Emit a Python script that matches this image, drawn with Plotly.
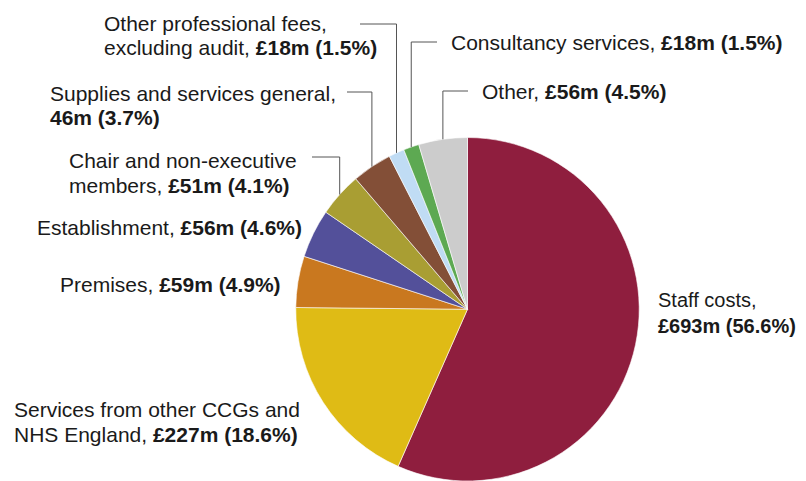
import math
import plotly.graph_objects as go

categories = ["Staff costs", "Services from other CCGs and NHS England", "Premises",
              "Establishment", "Chair and non-executive members", "Supplies and services general",
              "Other professional fees, excluding audit", "Consultancy services", "Other"]
values = [693, 227, 59, 56, 51, 46, 18, 18, 56]
percents = [56.6, 18.6, 4.9, 4.6, 4.1, 3.7, 1.5, 1.5, 4.5]
colors = ["#8F1E3E", "#DFBB15", "#C9781F", "#53509A", "#A99E33", "#834F37",
          "#C0DCF4", "#5DA952", "#CCCCCC"]

OFF = 8  # page body margin
W, H = 806 - OFF, 481 - OFF
DX = [0.3606, 0.7910]
DY = [0.0, 0.7262]
FONT = "Liberation Sans, Arial, sans-serif"
FS = 21
TXT = "#1a1a1a"
LINE = "#555555"

fig = go.Figure(go.Pie(
    labels=categories, values=values, sort=False, direction="clockwise", rotation=0,
    marker=dict(colors=colors, line=dict(color="white", width=0.6)),
    textinfo="none", hoverinfo="label+value", showlegend=False,
    domain=dict(x=DX, y=DY),
))

# pie geometry in window pixels (derived from domain)
cx = (DX[0] + DX[1]) / 2 * W + OFF
cy = H * (1 - (DY[0] + DY[1]) / 2) + OFF
r = min((DX[1] - DX[0]) * W, (DY[1] - DY[0]) * H) / 2
total = sum(values)

def mid_point(i):
    start = sum(values[:i])
    frac = (start + values[i] / 2) / total
    a = frac * 2 * math.pi
    return cx + r * math.sin(a), cy - r * math.cos(a)

def px(x):
    return (x - OFF) / W

def py(y):
    return 1 - (y - OFF) / H

def money(i, pound=True):
    return f"<b>{'£' if pound else ''}{values[i]}m ({percents[i]}%)</b>"

# label lines: (x, y_center, text, size) in window pixels
labels = [
    (656, 300, "Staff costs,", 20), (656, 326, money(0), 20),
    (12, 409, "Services from other CCGs and", FS), (12, 434, "NHS England, " + money(1), FS),
    (58, 284, "Premises, " + money(2), FS),
    (35, 227, "Establishment, " + money(3), FS),
    (67, 160, "Chair and non-executive", FS), (67, 185, "members, " + money(4), FS),
    (48, 93, "Supplies and services general,", FS), (48, 118, money(5, pound=False), FS),
    (102, 23, "Other professional fees,", FS), (102, 48, "excluding audit, " + money(6), FS),
    (449, 42, "Consultancy services, " + money(7), FS),
    (480, 91, "Other, " + money(8), FS),
]
annotations = [dict(x=px(x), y=py(y), xref="paper", yref="paper", text=t, showarrow=False,
                    xanchor="left", yanchor="middle", align="left",
                    font=dict(family=FONT, size=s, color=TXT))
               for x, y, t, s in labels]

# elbow leader lines: (slice index, horizontal y, horizontal far-end x)
leaders = [(4, 157, 312), (5, 92, 347), (6, 24, 360), (7, 42, 437), (8, 91, 468)]
shapes = []
for i, hy, hx in leaders:
    mx, my = mid_point(i)
    shapes.append(dict(type="line", xref="paper", yref="paper",
                       x0=px(mx), y0=py(my), x1=px(mx), y1=py(hy),
                       line=dict(color=LINE, width=1)))
    shapes.append(dict(type="line", xref="paper", yref="paper",
                       x0=px(mx), y0=py(hy), x1=px(hx), y1=py(hy),
                       line=dict(color=LINE, width=1)))

fig.update_layout(width=W, height=H, margin=dict(l=0, r=0, t=0, b=0),
                  paper_bgcolor="white", plot_bgcolor="white",
                  annotations=annotations, shapes=shapes)
fig.write_html("out.html")
